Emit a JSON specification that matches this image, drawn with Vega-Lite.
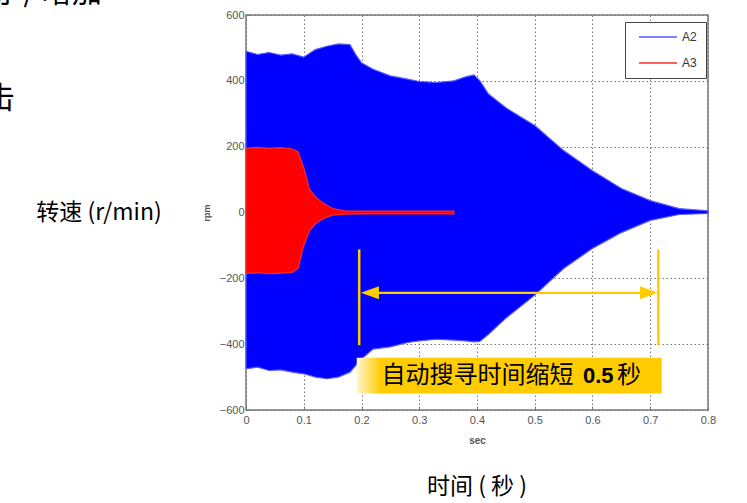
{
  "$schema": "https://vega.github.io/schema/vega-lite/v6.json",
  "width": 462,
  "height": 395,
  "autosize": {"type": "none"},
  "padding": {"left": 246, "top": 15, "right": 39, "bottom": 93},
  "background": "white",
  "config": {"view": {"stroke": "#7a7a7a", "strokeWidth": 1.5}, "font": "Liberation Sans"},
  "datasets": {
    "env": [
      {"series": "A2", "t": 0, "v": 490, "v2": -475},
      {"series": "A2", "t": 0.02, "v": 480, "v2": -470},
      {"series": "A2", "t": 0.04, "v": 486, "v2": -480},
      {"series": "A2", "t": 0.06, "v": 478, "v2": -478},
      {"series": "A2", "t": 0.08, "v": 482, "v2": -485},
      {"series": "A2", "t": 0.1, "v": 472, "v2": -490},
      {"series": "A2", "t": 0.12, "v": 495, "v2": -500},
      {"series": "A2", "t": 0.14, "v": 505, "v2": -505},
      {"series": "A2", "t": 0.16, "v": 512, "v2": -500},
      {"series": "A2", "t": 0.18, "v": 510, "v2": -485},
      {"series": "A2", "t": 0.19, "v": 480, "v2": -465},
      {"series": "A2", "t": 0.2, "v": 455, "v2": -445},
      {"series": "A2", "t": 0.22, "v": 435, "v2": -415},
      {"series": "A2", "t": 0.25, "v": 415, "v2": -408},
      {"series": "A2", "t": 0.28, "v": 405, "v2": -395},
      {"series": "A2", "t": 0.3, "v": 398, "v2": -390},
      {"series": "A2", "t": 0.33, "v": 395, "v2": -385},
      {"series": "A2", "t": 0.36, "v": 400, "v2": -388},
      {"series": "A2", "t": 0.38, "v": 412, "v2": -390},
      {"series": "A2", "t": 0.395, "v": 418, "v2": -393},
      {"series": "A2", "t": 0.405, "v": 400, "v2": -392},
      {"series": "A2", "t": 0.42, "v": 360, "v2": -370},
      {"series": "A2", "t": 0.45, "v": 318, "v2": -321},
      {"series": "A2", "t": 0.5, "v": 264, "v2": -251},
      {"series": "A2", "t": 0.55, "v": 188, "v2": -170},
      {"series": "A2", "t": 0.6, "v": 127, "v2": -109},
      {"series": "A2", "t": 0.65, "v": 73, "v2": -61},
      {"series": "A2", "t": 0.7, "v": 36, "v2": -24},
      {"series": "A2", "t": 0.75, "v": 12, "v2": -6},
      {"series": "A2", "t": 0.8, "v": 5, "v2": -3},
      {"series": "A3", "t": 0, "v": 195, "v2": -185},
      {"series": "A3", "t": 0.02, "v": 198, "v2": -183},
      {"series": "A3", "t": 0.04, "v": 195, "v2": -186},
      {"series": "A3", "t": 0.06, "v": 197, "v2": -184},
      {"series": "A3", "t": 0.08, "v": 193, "v2": -182},
      {"series": "A3", "t": 0.09, "v": 185, "v2": -170},
      {"series": "A3", "t": 0.1, "v": 136, "v2": -100},
      {"series": "A3", "t": 0.11, "v": 70, "v2": -55},
      {"series": "A3", "t": 0.12, "v": 48, "v2": -35},
      {"series": "A3", "t": 0.13, "v": 33, "v2": -22},
      {"series": "A3", "t": 0.14, "v": 22, "v2": -14},
      {"series": "A3", "t": 0.15, "v": 12, "v2": -8},
      {"series": "A3", "t": 0.17, "v": 5, "v2": -5},
      {"series": "A3", "t": 0.2, "v": 4, "v2": -4},
      {"series": "A3", "t": 0.36, "v": 4, "v2": -4}
    ]
  },
  "layer": [
    {
      "data": {"name": "env"},
      "mark": {"type": "area", "strokeWidth": 1.2},
      "encoding": {
        "x": {
          "field": "t", "type": "quantitative",
          "scale": {"domain": [0, 0.8], "nice": false, "zero": false},
          "axis": {
            "values": [0, 0.1, 0.2, 0.3, 0.4, 0.5, 0.6, 0.7, 0.8], "format": "~g",
            "title": "sec", "grid": true, "gridDash": [1.5, 2.5], "gridColor": "#777", "gridWidth": 1,
            "domain": false, "ticks": true, "tickSize": -4, "tickColor": "#777",
            "labelFont": "Liberation Sans", "labelFontSize": 11, "labelColor": "#555", "labelPadding": 8,
            "labelFlush": false,
            "titleFont": "Liberation Sans", "titleFontSize": 10, "titleFontWeight": "bold", "titleColor": "#555", "titlePadding": 10
          }
        },
        "y": {
          "field": "v", "type": "quantitative",
          "scale": {"domain": [-600, 600], "nice": false, "zero": false},
          "axis": {
            "values": [-600, -400, -200, 0, 200, 400, 600], "format": "d",
            "title": "rpm", "grid": true, "gridDash": [1.5, 2.5], "gridColor": "#777", "gridWidth": 1,
            "domain": false, "ticks": true, "tickSize": -4, "tickColor": "#777",
            "labelFont": "Liberation Sans", "labelFontSize": 11, "labelColor": "#555", "labelPadding": 6,
            "labelFlush": false,
            "titleFont": "Liberation Sans", "titleFontSize": 9, "titleColor": "#555", "titlePadding": 8
          }
        },
        "y2": {"field": "v2"},
        "fill": {
          "field": "series", "type": "nominal",
          "scale": {"domain": ["A2", "A3"], "range": ["#0000ff", "#ff0000"]},
          "legend": {
            "title": null, "orient": "none", "legendX": 379, "legendY": 7,
            "symbolType": "M-0.25,0H9.25", "symbolSize": 64, "symbolStrokeWidth": 1.5,
            "labelFont": "Liberation Sans", "labelFontSize": 12, "labelColor": "#333", "labelOffset": 36,
            "padding": 9, "rowPadding": 14, "strokeColor": "#444", "fillColor": "white", "cornerRadius": 0
          }
        },
        "stroke": {
          "field": "series", "type": "nominal",
          "scale": {"domain": ["A2", "A3"], "range": ["#5a5aff", "#ff2a2a"]},
          "legend": {
            "title": null, "orient": "none", "legendX": 379, "legendY": 7,
            "symbolType": "M-0.25,0H9.25", "symbolSize": 64, "symbolStrokeWidth": 1.5,
            "labelFont": "Liberation Sans", "labelFontSize": 12, "labelColor": "#333", "labelOffset": 36,
            "padding": 9, "rowPadding": 14, "strokeColor": "#444", "fillColor": "white", "cornerRadius": 0
          }
        }
      }
    },
    {
      "data": {"values": [
        {"t": 0.1917, "t2": 0.7198, "v": -441.5, "v2": -550}
      ]},
      "mark": {"type": "rect", "fill": {"gradient": "linear", "x1": 0, "y1": 0, "x2": 1, "y2": 0, "stops": [
        {"offset": 0, "color": "#fff6d0"}, {"offset": 0.08, "color": "#ffcc00"}, {"offset": 1, "color": "#ffcc00"}
      ]}},
      "encoding": {
        "x": {"field": "t", "type": "quantitative"},
        "x2": {"field": "t2"},
        "y": {"field": "v", "type": "quantitative"},
        "y2": {"field": "v2"}
      }
    },
    {
      "data": {"values": [
        {"t": 0.196, "v": -112, "v2": -403},
        {"t": 0.714, "v": -112, "v2": -403}
      ]},
      "mark": {"type": "rule", "color": "#ffcc00", "strokeWidth": 2.5},
      "encoding": {
        "x": {"field": "t", "type": "quantitative"},
        "y": {"field": "v", "type": "quantitative"},
        "y2": {"field": "v2"}
      }
    },
    {
      "data": {"values": [
        {"t": 0.205, "t2": 0.705, "v": -244}
      ]},
      "mark": {"type": "rule", "color": "#ffcc00", "strokeWidth": 2.2},
      "encoding": {
        "x": {"field": "t", "type": "quantitative"},
        "x2": {"field": "t2"},
        "y": {"field": "v", "type": "quantitative"}
      }
    },
    {
      "data": {"values": [
        {"t": 0.199, "v": -244, "dir": "L"},
        {"t": 0.7134, "v": -244, "dir": "R"}
      ]},
      "mark": {"type": "point", "filled": true, "color": "#ffcc00", "opacity": 1, "size": 324},
      "encoding": {
        "x": {"field": "t", "type": "quantitative"},
        "y": {"field": "v", "type": "quantitative"},
        "shape": {"field": "dir", "type": "nominal", "scale": {"domain": ["L", "R"], "range": ["M0,0L2,-0.72L2,0.72Z", "M0,0L-2,-0.72L-2,0.72Z"]}, "legend": null}
      }
    },
    {
      "data": {"values": [
        {"t": 0.2345, "v": -496, "txt": "自动搜寻时间缩短"},
        {"t": 0.6424, "v": -496, "txt": "秒"}
      ]},
      "mark": {"type": "text", "align": "left", "baseline": "middle", "font": "Noto Sans CJK SC", "fontSize": 24, "color": "#000"},
      "encoding": {
        "x": {"field": "t", "type": "quantitative"},
        "y": {"field": "v", "type": "quantitative"},
        "text": {"field": "txt"}
      }
    },
    {
      "data": {"values": [
        {"t": 0.5835, "v": -496, "txt": "0.5"}
      ]},
      "mark": {"type": "text", "align": "left", "baseline": "middle", "font": "Liberation Sans", "fontWeight": "bold", "fontSize": 22, "color": "#000"},
      "encoding": {
        "x": {"field": "t", "type": "quantitative"},
        "y": {"field": "v", "type": "quantitative"},
        "text": {"field": "txt"}
      }
    },
    {
      "data": {"values": [
        {"t": -0.2545, "v": -3, "txt": "转速 (r/min)"},
        {"t": 0.4, "v": -834, "txt": "时间 ( 秒 )"}
      ]},
      "mark": {"type": "text", "align": "center", "baseline": "middle", "font": "Noto Sans CJK SC", "fontSize": 23, "color": "#000"},
      "encoding": {
        "x": {"field": "t", "type": "quantitative"},
        "y": {"field": "v", "type": "quantitative"},
        "text": {"field": "txt"}
      }
    },
    {
      "data": {"values": [
        {"t": -0.2494, "v": 641, "txt": "寻 / 增加"},
        {"t": -0.4, "v": 316, "txt": "击"}
      ]},
      "mark": {"type": "text", "align": "right", "baseline": "alphabetic", "font": "Noto Sans CJK SC", "fontSize": 30, "color": "#000"},
      "encoding": {
        "x": {"field": "t", "type": "quantitative"},
        "y": {"field": "v", "type": "quantitative"},
        "text": {"field": "txt"}
      }
    }
  ]
}
